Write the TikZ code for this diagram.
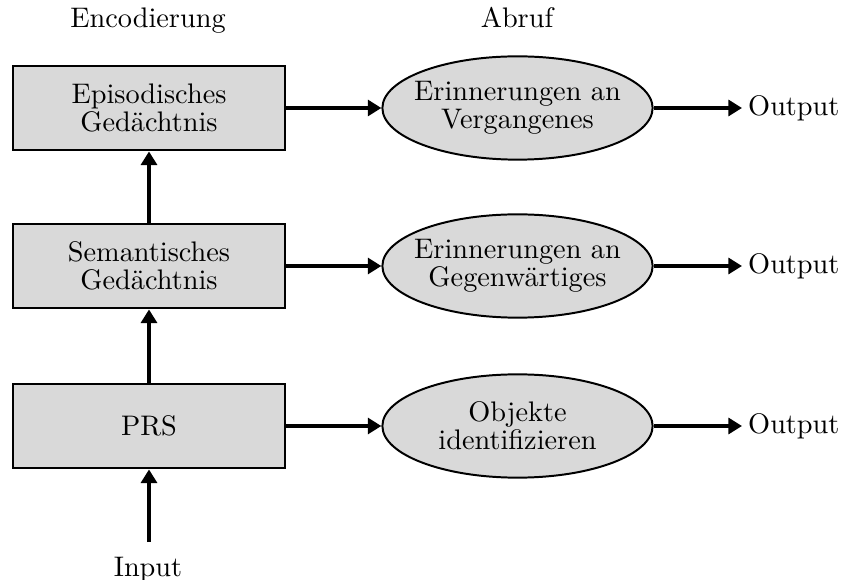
\documentclass[tikz,border=0pt]{standalone}
\usetikzlibrary{arrows.meta,shapes.geometric}
\begin{document}
\begin{tikzpicture}[x=0.3534pt, y=-0.3534pt,
  every node/.style={font=\fontsize{10}{10}\selectfont, inner sep=0pt},
  store/.style={draw, line width=0.7pt, fill=black!15, align=center,
    minimum width=96pt, minimum height=30pt},
  recall/.style={ellipse, draw, line width=0.7pt, fill=black!15, align=center,
    inner xsep=-4.5pt, inner ysep=0pt,
    minimum width=95.5pt, minimum height=36.5pt},
  result/.style={anchor=west, inner xsep=2pt},
  flow/.style={line width=1.7pt, -{Triangle[length=4.8pt,width=5.6pt]}}]
  \useasboundingbox (0,0) rectangle (845,580);

  % column headings
  \node[anchor=base] (henc) at (148,28) {Encodierung};
  \node[anchor=base] (habr) at (517,28) {Abruf};

  % memory systems
  \node[store] (epi) at (149,108) {Episodisches\\Gedächtnis};
  \node[store] (sem) at (149,266) {Semantisches\\Gedächtnis};
  \node[store] (prs) at (149,426) {PRS};

  % retrieval
  \node[recall] (vgg) at (517.5,108) {Erinnerungen an\\Vergangenes};
  \node[recall] (ggw) at (517.5,266) {Erinnerungen an\\Gegenwärtiges};
  \node[recall] (obj) at (517.5,426) {Objekte\\identifizieren};

  % outputs
  \node[result] (o1) at (742,108) {Output};
  \node[result] (o2) at (742,266) {Output};
  \node[result] (o3) at (742,426) {Output};

  % input
  \node[anchor=base] (inp) at (148,576) {Input};
  \coordinate (inend) at (149,542);

  % connectors
  \draw[flow] (inend) -- (prs.south);
  \draw[flow] (prs.north) -- (sem.south);
  \draw[flow] (sem.north) -- (epi.south);
  \draw[flow] (epi.east) -- (vgg.west);
  \draw[flow] (sem.east) -- (ggw.west);
  \draw[flow] (prs.east) -- (obj.west);
  \draw[flow] (vgg.east) -- (o1.west);
  \draw[flow] (ggw.east) -- (o2.west);
  \draw[flow] (obj.east) -- (o3.west);
\end{tikzpicture}
\end{document}
